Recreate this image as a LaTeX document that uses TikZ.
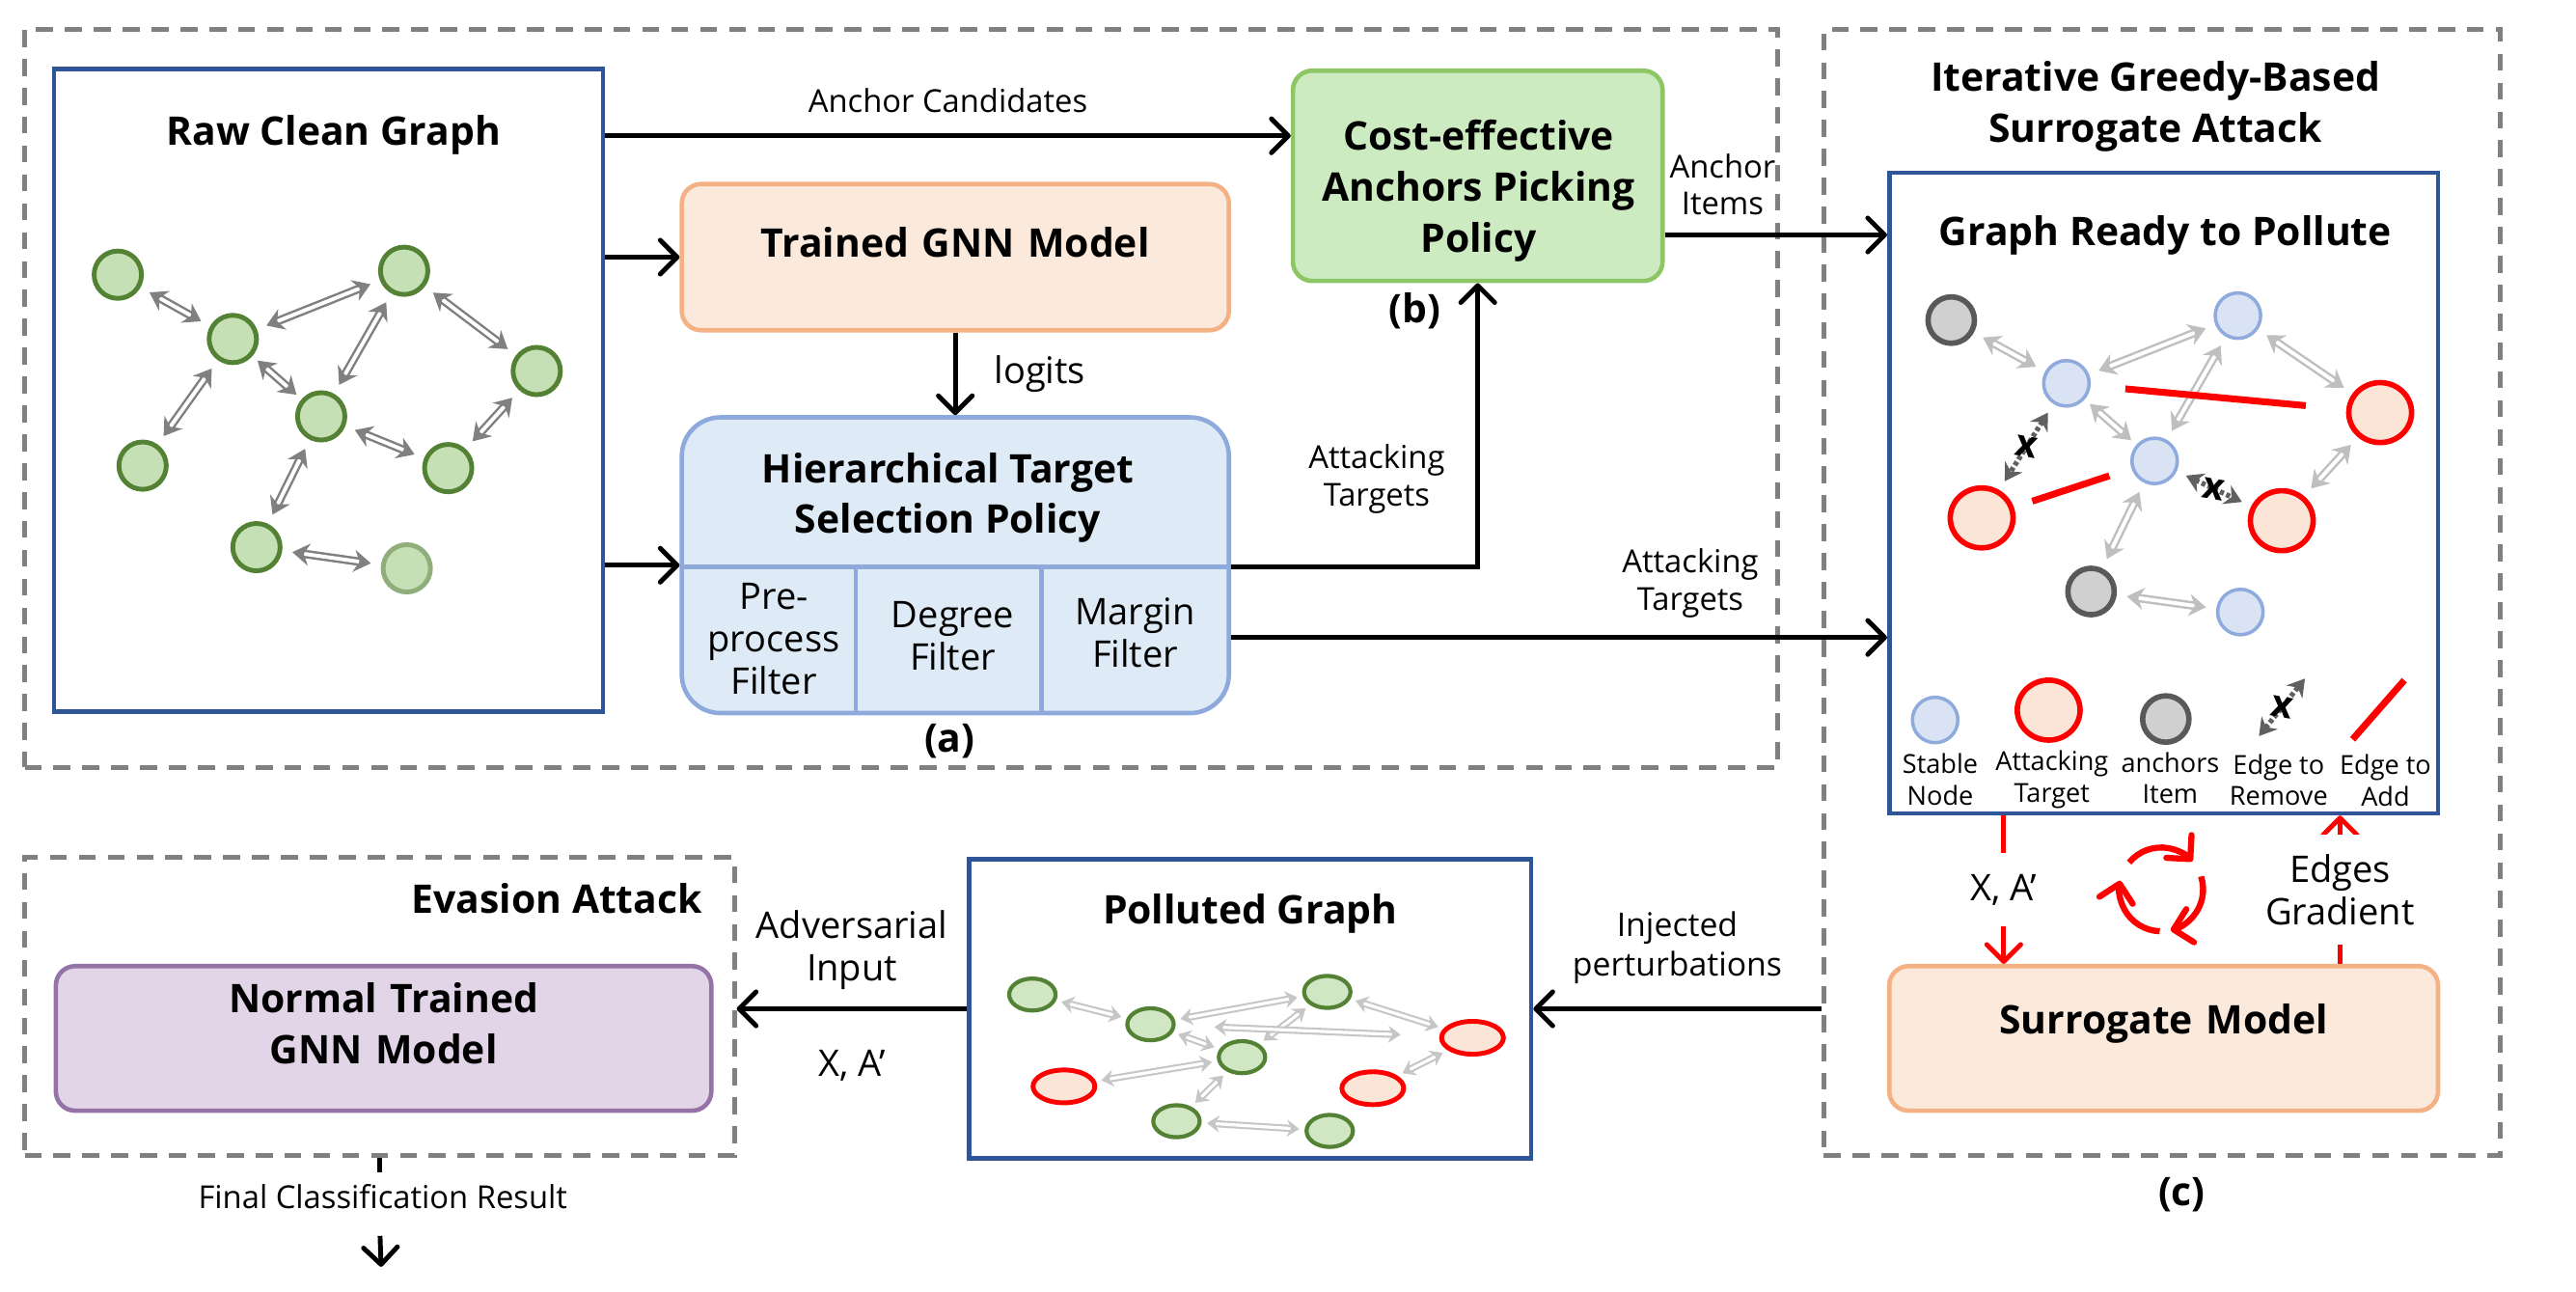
\documentclass[tikz,border=0pt]{standalone}
\usepackage{fontspec}
\setmainfont{Open Sans}
\usepackage{xcolor}
\usepackage{tikz}
\usetikzlibrary{arrows.meta,positioning,calc,fit,shapes.geometric}
\definecolor{gnnBlue}{HTML}{2F5597}
\definecolor{gnnDash}{HTML}{808080}
\definecolor{gnnOrange}{HTML}{F4B183}
\definecolor{gnnOrangeFill}{HTML}{FBE9DC}
\definecolor{gnnSky}{HTML}{8EA9DB}
\definecolor{gnnSkyFill}{HTML}{DEEAF6}
\definecolor{gnnLime}{HTML}{8CC665}
\definecolor{gnnLimeFill}{HTML}{CDEBC0}
\definecolor{gnnPurple}{HTML}{9673A6}
\definecolor{gnnPurpleFill}{HTML}{E1D5E7}
\definecolor{gnnGreen}{HTML}{548235}
\definecolor{gnnGreenFill}{HTML}{C5E0B4}
\definecolor{gnnRed}{HTML}{FF0000}
\definecolor{gnnRedFill}{HTML}{FBE5D6}
\definecolor{gnnStable}{HTML}{8FAADC}
\definecolor{gnnStableFill}{HTML}{DAE3F3}
\definecolor{gnnAnchor}{HTML}{595959}
\definecolor{gnnAnchorFill}{HTML}{D0D0D0}

\begin{document}
\begin{tikzpicture}[x=0.17mm, y=-0.17mm,
  titletext/.style={font=\fontsize{11.6}{15}\selectfont\bfseries, align=center},
  midtext/.style={font=\fontsize{10.8}{12.5}\selectfont, align=center},
  smalltext/.style={font=\fontsize{9.3}{11}\selectfont, align=center},
  legtext/.style={font=\fontsize{7.7}{9.2}\selectfont, align=center},
  dashbox/.style={draw=gnnDash, line width=1.4pt, dash pattern=on 5pt off 3.5pt, inner sep=0pt},
  graphbox/.style={draw=gnnBlue, line width=1.3pt, inner sep=0pt},
  roundbox/.style={line width=1.3pt, rounded corners=2mm, inner sep=0pt},
  flow/.style={line width=1.4pt, -{Straight Barb[length=5pt,width=10pt,round]}},
  redflow/.style={draw=gnnRed, line width=1.4pt, -{Straight Barb[length=5pt,width=10pt,round]}},
  gedge/.style={draw=#1, double=white, line width=0.7pt, double distance=1.1pt,
    {Stealth[length=5pt,width=6.5pt]}-{Stealth[length=5pt,width=6.5pt]}, shorten <=3pt, shorten >=3pt},
  gedge/.default=gray,
  pedge/.style={draw=gray!45, double=white, line width=0.6pt, double distance=0.9pt,
    {Stealth[length=3.6pt,width=5pt]}-{Stealth[length=3.6pt,width=5pt]}, shorten <=1.6pt, shorten >=1.6pt},
  rmedge/.style={draw=gray!75!black, line width=1.5pt, dash pattern=on 1.2pt off 0.8pt,
    {Stealth[length=5pt,width=6pt]}-{Stealth[length=5pt,width=6pt]}, shorten <=3pt, shorten >=3pt},
  addedge/.style={draw=gnnRed, line width=2pt},
  xmark/.style={font=\fontsize{11}{11}\selectfont\bfseries, inner sep=0pt},
  gnode/.style={circle, draw=gnnGreen, fill=gnnGreenFill, line width=1.4pt, minimum size=4.9mm},
  snode/.style={circle, draw=gnnStable, fill=gnnStableFill, line width=1pt, minimum size=4.7mm},
  rnode/.style={ellipse, draw=gnnRed, fill=gnnRedFill, line width=1.6pt, minimum width=6.5mm, minimum height=6.2mm},
  anode/.style={circle, draw=gnnAnchor, fill=gnnAnchorFill, line width=1.6pt, minimum size=4.8mm},
  pgnode/.style={ellipse, draw=gnnGreen, fill=gnnGreenFill!80!white, line width=1.2pt, minimum width=4.8mm, minimum height=2.6mm},
  prnode/.style={ellipse, draw=gnnRed, fill=gnnRedFill, line width=1.4pt, minimum width=6.4mm, minimum height=3.4mm}]
\useasboundingbox (0,0) rectangle (1568,786);
% ---------- (a) + (b) : target and anchor selection ----------
\node[dashbox, fit={(15,18) (1082,467)}] (stageab) {};
\node[graphbox, fit={(33,42) (367,433)}] (raw) {};
\node[titletext] (rawtitle) at (203,82) {Raw Clean Graph};
\node[roundbox, draw=gnnOrange, fill=gnnOrangeFill, fit={(415,112) (748,201)}, titletext] (trained) {Trained GNN Model};
\node[roundbox, rounded corners=4mm, draw=gnnSky, fill=gnnSkyFill, fit={(415,254) (748,434)}] (hier) {};
\coordinate (hierdiv) at (415,345);
\draw[gnnSky, line width=1.3pt] (hierdiv) -- (hierdiv -| hier.east);
\draw[gnnSky, line width=1.3pt] (521,345) -- (521,434);
\draw[gnnSky, line width=1.3pt] (634,345) -- (634,434);
\node[titletext] (hiertitle) at (577,303) {Hierarchical Target\\Selection Policy};
\node[midtext] (fpre) at (471,389) {Pre-\\process\\Filter};
\node[midtext] (fdeg) at (580,387) {Degree\\Filter};
\node[midtext] (fmar) at (691,385) {Margin\\Filter};
\node[titletext] (tagA) at (578,451) {(a)};
\node[roundbox, draw=gnnLime, fill=gnnLimeFill, fit={(787,43) (1012,171)}] (picking) {};
\node[titletext] (pickingtitle) at (900,116) {Cost-effective\\Anchors Picking\\Policy};
\node[titletext] (tagB) at (861,189) {(b)};
% raw graph
\node[gnode] (n1) at (71.7,167.2) {};
\node[gnode] (n2) at (141.7,206.3) {};
\node[gnode] (n3) at (246.0,164.8) {};
\node[gnode] (n4) at (326.7,225.8) {};
\node[gnode] (n5) at (195.5,253.4) {};
\node[gnode] (n6) at (86.8,283.4) {};
\node[gnode] (n7) at (272.8,284.9) {};
\node[gnode] (n8) at (156.1,333.0) {};
\node[gnode, draw=gnnGreen!65] (n9) at (247.6,345.9) {};
\draw[gedge] (n1) -- (n2);
\draw[gedge] (n2) -- (n3);
\draw[gedge] (n3) -- (n5);
\draw[gedge] (n3) -- (n4);
\draw[gedge, shorten <=2pt, shorten >=2pt] (n2) -- (n5);
\draw[gedge] (n2) -- (n6);
\draw[gedge] (n5) -- (n7);
\draw[gedge] (n4) -- (n7);
\draw[gedge] (n5) -- (n8);
\draw[gedge] (n8) -- (n9);
% connectors
\coordinate (candout) at ($(raw.north east)+(0,42)$);
\draw[flow] (candout) -- node[smalltext, above=1mm] {Anchor Candidates} (candout -| picking.west);
\draw[flow] (raw.east |- trained.west) -- (trained.west);
\draw[flow] (raw.east |- hier.west) -- (hier.west);
\draw[flow] (trained.south) -- node[midtext, right=2.6mm] {logits} (hier.north);
\draw[flow] (hierdiv -| hier.east) -| node[smalltext, pos=0.655, left=2mm] {Attacking\\Targets} (picking.south);
% ---------- (c) : iterative greedy surrogate attack ----------
\node[dashbox, fit={(1110,18) (1522,703)}] (stagec) {};
\node[titletext] (stagectitle) at (1312,65) {Iterative Greedy-Based\\Surrogate Attack};
\node[graphbox, fit={(1150,105) (1484,495)}] (ready) {};
\node[titletext] (readytitle) at (1318,143) {Graph Ready to Pollute};
\node[roundbox, draw=gnnOrange, fill=gnnOrangeFill, fit={(1150,588) (1484,676)}, titletext] (surr) {Surrogate Model};
\node[titletext] (tagC) at (1328,727) {(c)};
% graph ready to pollute
\node[anode] (g1) at (1187.7,194.8) {};
\node[snode] (b1) at (1257.8,233.3) {};
\node[snode] (b2) at (1362.2,192.1) {};
\node[rnode] (r1) at (1448.8,251.1) {};
\node[snode] (b3) at (1311.5,280.5) {};
\node[rnode] (r2) at (1206.2,315.2) {};
\node[rnode] (r3) at (1388.9,316.9) {};
\node[anode] (g2) at (1272.8,360.0) {};
\node[snode] (b4) at (1363.7,372.5) {};
\draw[gedge=gray!50] (g1) -- (b1);
\draw[gedge=gray!50] (b1) -- (b2);
\draw[gedge=gray!50] (b2) -- (b3);
\draw[gedge=gray!50] (b2) -- (r1);
\draw[gedge=gray!50, shorten <=2pt, shorten >=2pt] (b1) -- (b3);
\draw[gedge=gray!50] (r1) -- (r3);
\draw[gedge=gray!50] (b3) -- (g2);
\draw[gedge=gray!50] (g2) -- (b4);
\draw[rmedge] (b1) -- node[xmark, rotate=-10] {x} (r2);
\draw[rmedge] (b3) -- node[xmark, rotate=-10] {x} (r3);
\draw[addedge, shorten <=3.6mm, shorten >=4.2mm] (b1) -- (r1);
\draw[addedge, shorten <=2mm, shorten >=2.4mm] (r2) -- (b3);
% legend
\node[snode] (lgStable) at (1177.9,438.2) {};
\node[rnode] (lgTarget) at (1247,432.2) {};
\node[anode] (lgAnchor) at (1318.3,437.6) {};
\coordinate (lgRmA) at (1375,448);
\coordinate (lgRmB) at (1403,413);
\draw[rmedge, shorten <=0pt, shorten >=0pt] (lgRmA) -- node[xmark, rotate=-10] {x} (lgRmB);
\coordinate (lgAddA) at (1432,450);
\coordinate (lgAddB) at (1463.5,414);
\draw[addedge] (lgAddA) -- (lgAddB);
\node[legtext] (lgStableText) at (1181,474.5) {Stable\\Node};
\node[legtext] (lgTargetText) at (1249,474.5) {Attacking\\Target};
\node[legtext] (lgAnchorText) at (1321,473.6) {anchors\\Item};
\node[legtext] (lgRmText) at (1387,474.6) {Edge to\\Remove};
\node[legtext] (lgAddText) at (1452,475) {Edge to\\Add};
% loop between ready graph and surrogate
\draw[redflow] ($(ready.south west)+(71,0)$) -- node[midtext, fill=white, inner ysep=2.2mm] {X, A'} ($(surr.north west)+(71,0)$);
\draw[redflow] ($(surr.north east)+(-61,0)$) -- node[midtext, fill=white, inner ysep=2mm] {Edges\\Gradient} ($(ready.south east)+(-61,0)$);
\coordinate (cycle) at (1315.5,541.3);
\draw[redflow, line width=1.8pt] ($(cycle)+(220:25.5)$) arc[start angle=220, end angle=318, radius=25.5];
\draw[redflow, line width=1.8pt] ($(cycle)+(342:25.5)$) arc[start angle=342, end angle=437, radius=25.5];
\draw[redflow, line width=1.8pt] ($(cycle)+(92:25.5)$) arc[start angle=92, end angle=192, radius=25.5];
% connectors into (c)
\coordinate (anchorout) at ($(picking.east)+(0,36)$);
\draw[flow] (anchorout) -- node[smalltext, pos=0.26, above=0.6mm] {Anchor\\Items} (anchorout -| ready.west);
\coordinate (targetout) at ($(hier.east)+(0,44)$);
\draw[flow] (targetout) -- node[smalltext, pos=0.7, above=0.6mm] {Attacking\\Targets} (targetout -| ready.west);
% ---------- evasion attack ----------
\node[graphbox, fit={(590,523) (932,705)}] (polluted) {};
\node[titletext] (pollutedtitle) at (761,556) {Polluted Graph};
\node[pgnode] (p1) at (628.4,605.3) {};
\node[pgnode] (p2) at (700.3,623.4) {};
\node[pgnode] (p3) at (807.9,603.7) {};
\node[prnode] (p4) at (896.3,631.6) {};
\node[pgnode] (p5) at (756.0,643.4) {};
\node[prnode] (p6) at (647.6,661.2) {};
\node[prnode] (p7) at (835.6,662.3) {};
\node[pgnode] (p8) at (716.1,682.4) {};
\node[pgnode] (p9) at (809.4,688.3) {};
\draw[pedge] (p1) -- (p2);
\draw[pedge] (p2) -- (p3);
\draw[pedge] (p2) -- (p5);
\draw[pedge] (p3) -- (p5);
\draw[pedge] (p3) -- (p4);
\draw[pedge] (p4) -- (p7);
\draw[pedge] (p5) -- (p6);
\draw[pedge] (p5) -- (p8);
\draw[pedge] (p8) -- (p9);
\draw[pedge, shorten <=4mm, shorten >=4mm] (p2) -- (p4);
\node[dashbox, fit={(15,522) (447,703)}] (eva) {};
\node[titletext] (evatitle) at (339,547) {Evasion Attack};
\node[roundbox, draw=gnnPurple, fill=gnnPurpleFill, fit={(34,588) (433,676)}, titletext] (normal) {Normal Trained\\GNN Model};
\draw[flow] (stagec.west |- polluted.east) -- node[midtext, font=\fontsize{9.6}{11.5}\selectfont, above=1.2mm] {Injected\\perturbations} (polluted.east);
\draw[flow] (polluted.west) -- node[midtext, above=0.6mm] {Adversarial\\Input} node[midtext, below=2.8mm] {X, A'} (eva.east |- polluted.west);
\node[smalltext] (finalres) at (233,728) {Final Classification Result};
\coordinate (finalstub) at ($(eva.south)+(0,9)$);
\draw[line width=1.4pt] (eva.south) -- (finalstub);
\coordinate (finalend) at (232,771);
\draw[flow, shorten <=1.6mm] (eva.south |- finalres.south) -- (finalend);
\end{tikzpicture}
\end{document}
